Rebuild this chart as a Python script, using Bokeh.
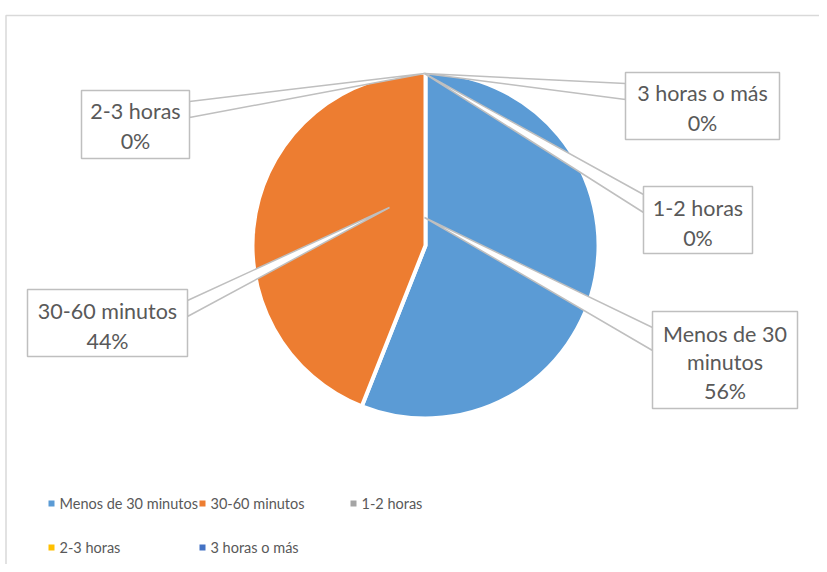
import math
from bokeh.plotting import figure
from bokeh.models import Range1d, ColumnDataSource
from bokeh.core.properties import value
from bokeh.embed import file_html
from bokeh.resources import INLINE

# ---- data ----
categories = ["Menos de 30 minutos", "30-60 minutos", "1-2 horas", "2-3 horas", "3 horas o más"]
values = [56, 44, 0, 0, 0]
colors = ["#5B9BD5", "#ED7D31", "#A5A5A5", "#FFC000", "#4472C4"]
label_lines = [["Menos de 30", "minutos"], ["30-60 minutos"], ["1-2 horas"], ["2-3 horas"], ["3 horas o más"]]

# ---- layout (reference pixel coords, y down) ----
W, H = 819, 564
def fx(rx): return rx
def fy(ry): return H - ry

CX, CY, R = 425, 245, 173
callouts = [
    dict(box=(652, 311, 797, 408), base=((652, 327), (652, 350)), tip=(424, 217), ty=333, step=28.5),
    dict(box=(27, 289, 187, 356), base=((187, 300), (187, 316)), tip=(389, 207), ty=310, step=30),
    dict(box=(643, 186, 752, 253), base=((643, 194), (643, 212)), tip=(424, 73), ty=207, step=30),
    dict(box=(81, 90, 189, 158), base=((189, 101), (189, 117)), tip=(424, 73), ty=110, step=30),
    dict(box=(625, 72, 779, 139), base=((625, 83), (625, 99)), tip=(424, 73), ty=92, step=30),
]
legend_pos = [(51, 59, 503), (202, 210, 503), (353, 361, 503), (51, 59, 547), (202, 210, 547)]

TEXT = "#595959"
LINE = "#BFBFBF"
FONT = "Lato"

p = figure(width=W, height=H, x_range=Range1d(0, W), y_range=Range1d(0, H),
           output_backend="svg", toolbar_location=None, min_border=0)
p.axis.visible = False
p.grid.visible = False
p.outline_line_color = None
p.background_fill_color = "white"
p.border_fill_color = "white"

# chart border
p.line([fx(5.5), fx(5.5), fx(830)], [fy(600), fy(15), fy(15)], line_color="#D9D9D9", line_width=1.5)

# pie
total = sum(values)
starts, ends, cols = [], [], []
cum = 0.0
for v, c in zip(values, colors):
    a0 = math.pi / 2 - 2 * math.pi * cum / total
    cum += v
    a1 = math.pi / 2 - 2 * math.pi * cum / total
    if v > 0:
        starts.append(a0); ends.append(a1); cols.append(c)
src = ColumnDataSource(dict(start=starts, end=ends, color=cols))
p.wedge(x=fx(CX), y=fy(CY), radius=R, start_angle="start", end_angle="end", direction="clock",
        fill_color="color", line_color="white", line_width=4, source=src)

# callouts
for i, (cat, v) in enumerate(zip(categories, values)):
    c = callouts[i]
    (b1, b2) = c["base"]
    tip = c["tip"]
    p.patch([fx(tip[0]), fx(b1[0]), fx(b2[0])], [fy(tip[1]), fy(b1[1]), fy(b2[1])],
            fill_color="white", line_color=LINE, line_width=1.5)
for i, (cat, v) in enumerate(zip(categories, values)):
    c = callouts[i]
    x0, y0, x1, y1 = c["box"]
    p.quad(left=fx(x0), right=fx(x1), top=fy(y0), bottom=fy(y1),
           fill_color="white", line_color=LINE, line_width=1.5)
    lines = label_lines[i] + ["%d%%" % round(100 * v / total)]
    xs = [fx((x0 + x1) / 2)] * len(lines)
    ys = [fy(c["ty"] + k * c["step"]) for k in range(len(lines))]
    p.text(x=xs, y=ys, text=lines, text_align="center", text_baseline="middle",
           text_font=value(FONT), text_font_size="21.5px", text_color=TEXT)

# legend
for i, cat in enumerate(categories):
    mx, tx, ty = legend_pos[i]
    p.scatter(x=[fx(mx)], y=[fy(ty)], marker="square", size=6, fill_color=colors[i], line_color=None)
    p.text(x=[fx(tx)], y=[fy(ty)], text=[cat], text_align="left", text_baseline="middle",
           text_font=value(FONT), text_font_size="14.5px", text_color=TEXT)

open("out.html", "w").write(file_html(p, INLINE))
